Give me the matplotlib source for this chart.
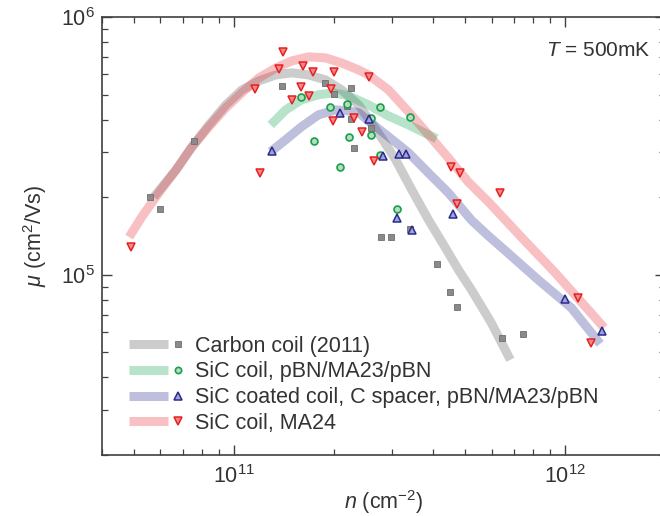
import matplotlib
matplotlib.use("Agg")
import matplotlib.pyplot as plt
from matplotlib.lines import Line2D
from matplotlib.legend_handler import HandlerBase

plt.rcParams["font.family"] = ["Liberation Sans", "DejaVu Sans"]
plt.rcParams["mathtext.fontset"] = "custom"
plt.rcParams["mathtext.rm"] = "Liberation Sans"
plt.rcParams["mathtext.it"] = "Liberation Sans:italic"
plt.rcParams["mathtext.default"] = "rm"

# measured points (n in cm^-2, mobility in cm^2/Vs)
carbon_n = [5.58e10, 5.98e10, 7.58e10, 1.40e11, 1.89e11, 2.0e11, 2.25e11, 2.2e11, 2.25e11,
            2.6e11, 2.3e11, 2.79e11, 2.99e11, 3.39e11, 4.09e11, 4.48e11, 4.70e11, 6.46e11, 7.47e11]
carbon_mu = [2.0e5, 1.80e5, 3.31e5, 5.40e5, 5.55e5, 5.03e5, 5.31e5, 4.52e5, 4.03e5,
             3.71e5, 3.11e5, 1.40e5, 1.40e5, 1.51e5, 1.10e5, 8.6e4, 7.5e4, 5.7e4, 5.9e4]

sic_n = [1.59e11, 1.74e11, 1.95e11, 2.2e11, 2.22e11, 2.6e11, 2.59e11, 2.77e11, 2.77e11,
         3.39e11, 2.09e11, 3.10e11]
sic_mu = [4.90e5, 3.31e5, 4.48e5, 4.60e5, 3.42e5, 4.06e5, 3.49e5, 4.48e5, 2.92e5,
          4.10e5, 2.62e5, 1.80e5]

coated_n = [1.30e11, 2.09e11, 2.55e11, 2.81e11, 3.16e11, 3.30e11, 3.10e11, 3.44e11,
            4.60e11, 1.0e12, 1.29e12]
coated_mu = [3.03e5, 4.24e5, 4.03e5, 2.9e5, 2.94e5, 2.94e5, 1.66e5, 1.49e5,
             1.72e5, 8.07e4, 6.07e4]

ma24_n = [4.9e10, 1.16e11, 1.20e11, 1.41e11, 1.37e11, 1.62e11, 1.73e11, 1.59e11, 1.50e11,
          1.69e11, 2.0e11, 1.96e11, 1.99e11, 2.30e11, 2.55e11, 2.43e11, 2.64e11, 4.51e11,
          4.80e11, 6.37e11, 4.73e11, 1.09e12, 1.20e12]
ma24_mu = [1.28e5, 5.26e5, 2.48e5, 7.32e5, 6.28e5, 6.46e5, 6.12e5, 5.35e5, 4.76e5,
           4.94e5, 6.12e5, 5.26e5, 3.95e5, 4.06e5, 5.85e5, 3.58e5, 2.77e5, 2.62e5,
           2.48e5, 2.08e5, 1.88e5, 8.15e4, 5.45e4]

# guide curves
carbon_fit_n = [5.74e10, 6.69e10, 7.47e10, 8.41e10, 9.46e10, 1.057e11, 1.19e11, 1.34e11,
                1.495e11, 1.68e11, 1.89e11, 2.115e11, 2.38e11, 2.73e11, 3.08e11, 3.44e11,
                3.87e11, 4.29e11, 4.76e11, 5.21e11, 5.98e11, 6.83e11]
carbon_fit_mu = [2.005e5, 2.55e5, 3.13e5, 3.81e5, 4.56e5, 5.21e5, 5.65e5, 5.96e5,
                 6.07e5, 5.96e5, 5.70e5, 5.21e5, 4.56e5, 3.55e5, 2.79e5, 2.14e5,
                 1.63e5, 1.31e5, 1.046e5, 8.75e4, 6.52e4, 4.68e4]

sic_fit_n = [1.292e11, 1.434e11, 1.60e11, 1.80e11, 2.00e11, 2.22e11, 2.55e11, 2.93e11,
             3.37e11, 3.87e11, 4.09e11]
sic_fit_mu = [3.81e5, 4.36e5, 4.77e5, 4.99e5, 5.08e5, 4.94e5, 4.56e5, 4.13e5,
              3.81e5, 3.49e5, 3.37e5]

coated_fit_n = [1.292e11, 1.434e11, 1.60e11, 1.80e11, 2.03e11, 2.22e11, 2.38e11, 2.55e11,
                2.93e11, 3.37e11, 3.87e11, 4.44e11, 5.21e11, 5.86e11, 6.60e11, 8.29e11,
                1.043e12, 1.275e12]
coated_fit_mu = [3.00e5, 3.34e5, 3.75e5, 4.17e5, 4.36e5, 4.32e5, 4.25e5, 3.95e5,
                 3.43e5, 2.97e5, 2.48e5, 2.08e5, 1.63e5, 1.416e5, 1.239e5, 9.56e4,
                 7.45e4, 5.40e4]

ma24_fit_n = [4.83e10, 5.28e10, 5.94e10, 6.69e10, 7.47e10, 8.41e10, 9.46e10, 1.057e11,
              1.19e11, 1.34e11, 1.495e11, 1.68e11, 1.89e11, 2.115e11, 2.38e11, 2.55e11,
              2.93e11, 3.37e11, 3.87e11, 4.44e11, 5.10e11, 5.86e11, 7.37e11, 9.33e11,
              1.173e12, 1.311e12]
ma24_fit_mu = [1.40e5, 1.68e5, 2.08e5, 2.55e5, 3.13e5, 3.75e5, 4.44e5, 5.08e5,
               5.80e5, 6.34e5, 6.75e5, 7.00e5, 6.94e5, 6.63e5, 6.23e5, 5.96e5,
               5.21e5, 4.28e5, 3.49e5, 2.84e5, 2.29e5, 1.92e5, 1.40e5, 1.018e5,
               7.32e4, 6.23e4]

labels = ["Carbon coil (2011)", "SiC coil, pBN/MA23/pBN",
          "SiC coated coil, C spacer, pBN/MA23/pBN", "SiC coil, MA24"]


class BandMarker(HandlerBase):
    # thick band on the left, marker a bit further right
    def create_artists(self, legend, orig, xd, yd, w, h, fontsize, trans):
        band, mk = orig
        y = h / 2 - yd
        ln = Line2D([-xd, -xd + 0.7 * w], [y, y], color=band.get_color(),
                    lw=band.get_linewidth(), alpha=band.get_alpha(), solid_capstyle="butt")
        m = Line2D([-xd + 0.88 * w], [y], ls="none", marker=mk.get_marker(),
                   ms=mk.get_markersize() * 0.9, mfc=mk.get_markerfacecolor(),
                   mec=mk.get_markeredgecolor(), mew=mk.get_markeredgewidth())
        ln.set_transform(trans)
        m.set_transform(trans)
        return [ln, m]


fig = plt.figure(figsize=(6.6, 5.16), dpi=100)
ax = fig.add_axes([0.1545, 0.1182, 0.853, 0.849])

band_w = 6.5
b1, = ax.plot(carbon_fit_n, carbon_fit_mu, color="#808080", alpha=0.4, lw=band_w,
              solid_capstyle="butt", solid_joinstyle="round")
b2, = ax.plot(sic_fit_n, sic_fit_mu, color="#20a860", alpha=0.32, lw=band_w,
              solid_capstyle="butt", solid_joinstyle="round")
b3, = ax.plot(coated_fit_n, coated_fit_mu, color="#2a2a90", alpha=0.3, lw=band_w,
              solid_capstyle="butt", solid_joinstyle="round")
b4, = ax.plot(ma24_fit_n, ma24_fit_mu, color="#e8202a", alpha=0.28, lw=band_w,
              solid_capstyle="butt", solid_joinstyle="round")

m1, = ax.plot(carbon_n, carbon_mu, ls="none", marker="s", ms=4.3, mfc="#8a8a8a", mec="#6e6e6e", mew=0.6)
m2, = ax.plot(sic_n, sic_mu, ls="none", marker="o", ms=5, mfc="#b8dcc0", mec="#16a04a", mew=1.2)
m3, = ax.plot(coated_n, coated_mu, ls="none", marker="^", ms=6, mfc="#9ea4d8", mec="#2a2a90", mew=1.1)
m4, = ax.plot(ma24_n, ma24_mu, ls="none", marker="v", ms=6, mfc="#f28a8a", mec="#e82020", mew=1.1)

ax.set_xscale("log")
ax.set_yscale("log")
ax.set_xlim(4e10, 2e12)
ax.set_ylim(2e4, 1e6)

for s in ax.spines.values():
    s.set_color("#404040")
    s.set_linewidth(1.2)
ax.tick_params(which="both", direction="in", top=True, right=True, colors="#404040",
               labelcolor="#333333", labelsize=15.5)
ax.tick_params(which="major", length=7, width=1)
ax.tick_params(which="minor", length=4, width=0.9)
ax.tick_params(axis="x", pad=7)
ax.tick_params(axis="y", pad=5)

ax.set_xlabel(r"$\mathit{n}$ (cm$^{-2}$)", fontsize=15.5, color="#333333", labelpad=0)
ax.set_ylabel(r"$\mathit{\mu}$ (cm$^{2}$/Vs)", fontsize=15.5, color="#333333", labelpad=9)

ax.text(0.975, 0.945, r"$\mathit{T}$ = 500mK", transform=ax.transAxes, ha="right", va="top",
        fontsize=15, color="#333333")

leg = ax.legend([(b1, m1), (b2, m2), (b3, m3), (b4, m4)], labels,
                handler_map={tuple: BandMarker()}, loc="lower left",
                bbox_to_anchor=(0.014, 0.004), frameon=False, fontsize=15.5,
                handlelength=2.6, handletextpad=0.45, labelspacing=0.22)
for t in leg.get_texts():
    t.set_color("#333333")

fig.savefig("out.png", dpi=100)
